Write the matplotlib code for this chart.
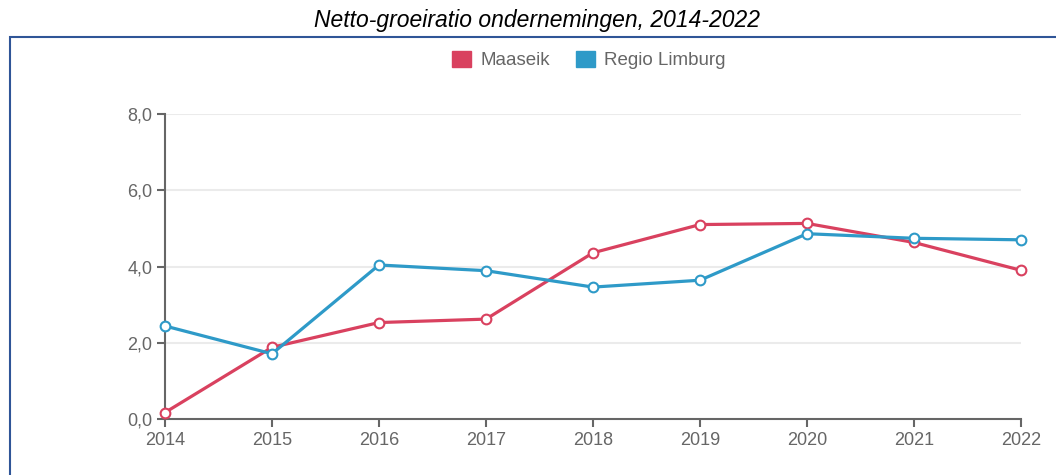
import matplotlib
matplotlib.use("Agg")
from matplotlib import pyplot as plt
from matplotlib.patches import Rectangle

# data
years = [2014, 2015, 2016, 2017, 2018, 2019, 2020, 2021, 2022]
maaseik = [0.17, 1.88, 2.53, 2.62, 4.36, 5.10, 5.13, 4.63, 3.90]
regio_limburg = [2.44, 1.71, 4.04, 3.89, 3.46, 3.64, 4.86, 4.74, 4.70]
yticks = [0, 2, 4, 6, 8]

red = '#d9415f'
blue = '#2e9ac8'
grey = '#666666'
font = 'Liberation Sans'

fig = plt.figure(figsize=(10.56, 4.75), dpi=100)

# blue frame around the chart
fig.patches.append(Rectangle((10 / 1056, -0.05), 1.1, 1 - 37 / 475 + 0.05,
                             transform=fig.transFigure, fill=False,
                             edgecolor='#2f5597', linewidth=1.5))

fig.text(537 / 1056, 1 - 21 / 475, 'Netto-groeiratio ondernemingen, 2014-2022',
         ha='center', va='center', fontsize=16.5, style='italic', family=font)

ax = fig.add_axes([165 / 1056, 1 - 419 / 475, (1021 - 165) / 1056, (419 - 114) / 475])

ax.plot(years, maaseik, color=red, lw=2.3, marker='o', ms=7,
        mfc='white', mec=red, mew=1.5, label='Maaseik', zorder=3, clip_on=False)
ax.plot(years, regio_limburg, color=blue, lw=2.3, marker='o', ms=7,
        mfc='white', mec=blue, mew=1.5, label='Regio Limburg', zorder=3, clip_on=False)

ax.set_xlim(years[0], years[-1])
ax.set_ylim(0, 8)
ax.set_xticks(years)
ax.set_yticks(yticks)
ax.set_yticklabels([f'{v:.1f}'.replace('.', ',') for v in yticks])

for v in yticks[1:]:
    ax.axhline(v, color='#ebebeb', lw=1.5, zorder=0)

for s in ['top', 'right']:
    ax.spines[s].set_visible(False)
for s in ['left', 'bottom']:
    ax.spines[s].set_color(grey)
    ax.spines[s].set_linewidth(1.5)

ax.tick_params(axis='both', colors=grey, width=1.5, length=6, labelsize=13)
ax.tick_params(axis='y', pad=3)
for lbl in ax.get_xticklabels() + ax.get_yticklabels():
    lbl.set_family(font)

leg = fig.legend(handles=[plt.Rectangle((0, 0), 1, 1, color=red),
                          plt.Rectangle((0, 0), 1, 1, color=blue)],
                 labels=['Maaseik', 'Regio Limburg'],
                 loc='center', bbox_to_anchor=(589 / 1056, 1 - 60 / 475), ncol=2,
                 frameon=False, handlelength=1.0, handleheight=1.0,
                 handletextpad=0.5, columnspacing=1.4,
                 prop={'family': font, 'size': 13.5})
for t in leg.get_texts():
    t.set_color(grey)

fig.savefig('out.png', dpi=100)
